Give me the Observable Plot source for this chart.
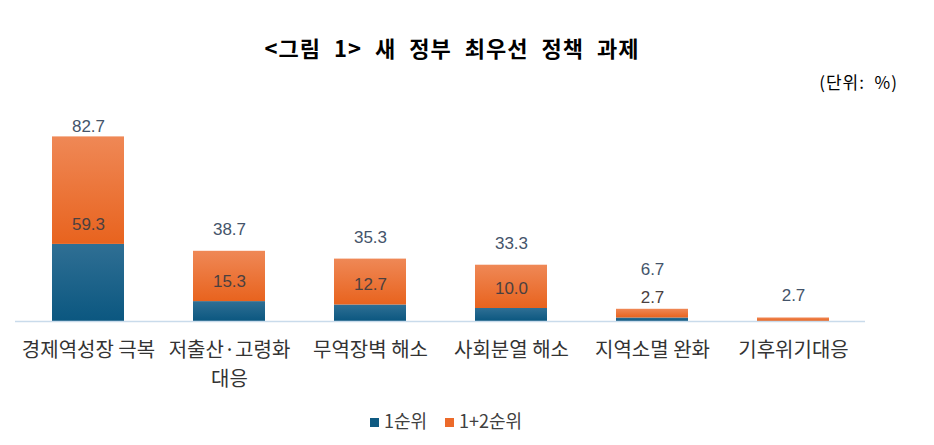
<!DOCTYPE html>
<html><head><meta charset="utf-8">
<script src="https://cdn.jsdelivr.net/npm/d3@7"></script>
<script src="https://cdn.jsdelivr.net/npm/@observablehq/plot@0.6"></script>
<style>
html,body{margin:0;padding:0;background:#fff;}
#wrap{position:relative;width:934px;height:445px;overflow:hidden;}
#title{position:absolute;top:30px;left:0;width:934px;padding-right:30px;box-sizing:border-box;text-align:center;font:bold 22px "Noto Sans CJK KR";letter-spacing:1px;word-spacing:7px;color:#000;line-height:34px;}
#unit{position:absolute;top:68px;right:36px;font:17px "Noto Sans CJK KR";letter-spacing:1px;color:#000;line-height:28px;}
#chart{position:absolute;top:100px;left:0;}
#legend{position:absolute;top:406px;left:0;width:934px;text-align:center;font:18px "Noto Sans CJK KR";color:#404040;line-height:28px;padding-right:42px;box-sizing:border-box;}
#legend span.sw{display:inline-block;width:9px;height:9px;margin-right:5px;vertical-align:1px;}
#legend span.it{margin:0 9px;}
</style></head>
<body><div id="wrap">
<div id="title">&lt;그림 1&gt; 새 정부 최우선 정책 과제</div>
<div id="unit">(단위:&nbsp; %)</div>
<div id="chart"></div>
<div id="legend"></div>
</div>
<script>
const categories = ["경제역성장 극복", "저출산·고령화\n대응", "무역장벽 해소", "사회분열 해소", "지역소멸 완화", "기후위기대응"];
const first = [59.3, 15.3, 12.7, 10.0, 2.7, 0];
const firstSecond = [82.7, 38.7, 35.3, 33.3, 6.7, 2.7];
const seriesNames = ["1순위", "1+2순위"];
const seriesColors = ["#0f5a82", "#ec6a2a"];

const long = [];
categories.forEach((c, i) => {
  long.push({cat: c, series: seriesNames[0], value: first[i]});
  long.push({cat: c, series: seriesNames[1], value: firstSecond[i]});
});
const rows = categories.map((c, i) => ({cat: c, v1: first[i], v12: firstSecond[i], i}));

const numFont = "Liberation Sans, Arial, sans-serif";
const plot = Plot.plot({
  width: 934, height: 300,
  marginLeft: 15, marginRight: 69, marginTop: 0, marginBottom: 79,
  x: {domain: categories, paddingInner: 0.49, paddingOuter: 0.245, label: null},
  y: {domain: [0, 170], axis: null},
  color: {domain: seriesNames, range: ["url(#gBlue)", "url(#gOrange)"]},
  style: {fontFamily: "Noto Sans CJK KR", background: "transparent"},
  marks: [
    Plot.barY(long, {x: "cat", y: "value", fill: "series", order: seriesNames}),
    Plot.ruleY([0], {stroke: "#c9dbeb", strokeWidth: 1.5}),
    Plot.axisX({tickSize: 0, tickPadding: 15, fontSize: 20, fill: "#333", lineHeight: 1.45, textAnchor: "middle"}),
    Plot.text(rows.filter(d => d.v1 > 0), {x: "cat", y: "v1", text: d => d.v1.toFixed(1), dy: -20, fontSize: 17, fill: "#4a4040", fontFamily: numFont}),
    Plot.text(rows.filter(d => d.i !== 0 && d.i !== 4), {x: "cat", y: d => d.v1 + d.v12, text: d => d.v12.toFixed(1), dy: -22, fontSize: 17, fill: "#44546a", fontFamily: numFont}),
    Plot.text(rows.filter(d => d.i === 0), {x: "cat", y: d => d.v1 + d.v12, text: d => d.v12.toFixed(1), dy: -10, fontSize: 17, fill: "#44546a", fontFamily: numFont}),
    Plot.text(rows.filter(d => d.i === 4), {x: "cat", y: d => d.v1 + d.v12, text: d => d.v12.toFixed(1), dy: -40, fontSize: 17, fill: "#44546a", fontFamily: numFont})
  ]
});
const svg = d3.select(plot);
const defs = svg.insert("defs", ":first-child");
function grad(id, top, bottom) {
  const g = defs.append("linearGradient").attr("id", id).attr("x1", 0).attr("y1", 0).attr("x2", 0).attr("y2", 1);
  g.append("stop").attr("offset", "0%").attr("stop-color", top);
  g.append("stop").attr("offset", "100%").attr("stop-color", bottom);
}
grad("gBlue", "#2f6f94", "#0b5780");
grad("gOrange", "#ef8856", "#e8631e");
document.getElementById("chart").appendChild(plot);

const leg = document.getElementById("legend");
seriesNames.forEach((s, i) => {
  const it = document.createElement("span");
  it.className = "it";
  it.innerHTML = `<span class="sw" style="background:${seriesColors[i]}"></span>${s}`;
  leg.appendChild(it);
});
</script>
</body></html>
